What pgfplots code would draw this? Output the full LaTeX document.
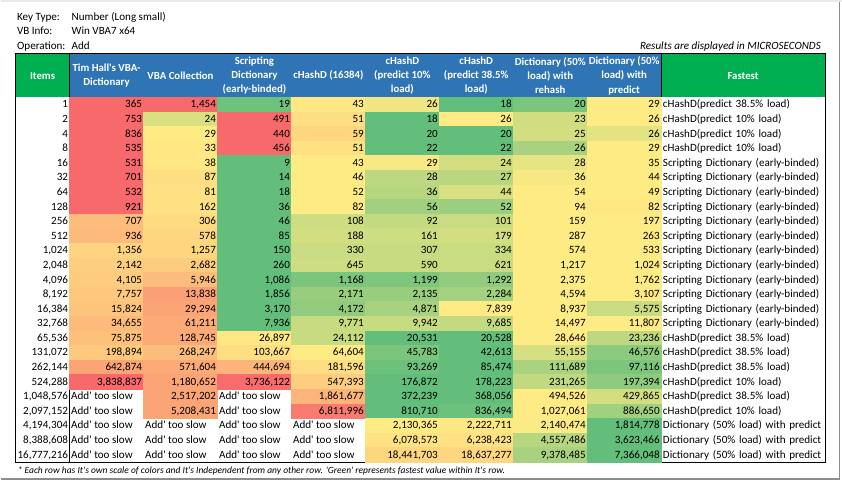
\documentclass[border=0pt]{standalone}
\usepackage{fontspec}
\setmainfont{Carlito}
\usepackage{pgfplots}
\usepackage{pgfplotstable}
\pgfplotsset{compat=1.18}
\definecolor{hblue}{HTML}{2F75B5}
\definecolor{hgreen}{HTML}{00B050}
\newcommand\cf{\fontsize{11.1}{14.6}\selectfont}
\newcommand\hf{\fontsize{10.8}{14.4}\selectfont}
\newcommand\sq{\textquotesingle}
\newcommand\fastname[1]{\ifcase#1\relax\or cHashD(predict 38.5\% load)\or cHashD(predict 10\% load)\or Scripting Dictionary (early-binded)\or Dictionary (50\% load) with predict\fi}
\pgfdeclareplotmark{cell}{\pgfpathrectangle{\pgfpoint{-37pt}{-7.3pt}}{\pgfpoint{74pt}{14.6pt}}\pgfusepathqfillstroke}
\tikzset{
  cellnum/.style={font=\cf, text=black, inner sep=0pt, text width=71pt, align=right, text height=8pt, text depth=1.4pt, anchor=center},
  hdr/.style={font=\hf\bfseries, text=white, align=center, inner sep=0pt},
  lbl/.style={font=\cf, anchor=base west, inner sep=0pt},
}
\newcommand\slow[2]{\node[anchor=base west,font=\cf,inner sep=0pt] at (axis cs:{#1+1.5},{97.4+14.6*#2+10.6}) {Add\sq{} too slow};}

\pgfplotstableread{
r items c1 c2 c3 c4 c5 c6 c7 c8 l1 l2 l3 l4 l5 l6 l7 l8 f
0 1 365 1454 19 43 26 18 20 29 1 1 0.04 0.51 0.45 0 0.08 0.5 1
1 2 753 24 491 51 18 26 23 26 1 0.38 1 0.55 0 0.5 0.35 0.5 2
2 4 836 29 440 59 20 20 25 26 1 0.5 1 0.58 0 0 0.36 0.41 2
3 8 535 33 456 51 22 22 26 29 1 0.51 1 0.54 0 0 0.22 0.5 2
4 16 531 38 9 43 29 24 28 35 1 0.51 0 0.5 0.48 0.36 0.42 0.5 3
5 32 701 87 14 46 28 27 36 44 1 0.55 0 0.5 0.29 0.28 0.47 0.5 3
6 64 532 81 18 52 36 44 54 49 1 0.54 0 0.5 0.27 0.38 0.5 0.5 3
7 128 921 162 36 82 56 52 94 82 1 0.54 0 0.5 0.2 0.18 0.5 0.51 3
8 256 707 306 46 108 92 101 159 197 0.68 0.56 0 0.34 0.31 0.33 0.5 0.5 3
9 512 936 578 85 188 161 179 287 263 0.69 0.58 0 0.36 0.34 0.36 0.5 0.5 3
10 1024 1356 1257 150 330 307 334 574 533 0.59 0.58 0 0.33 0.32 0.33 0.5 0.5 3
11 2048 2142 2682 260 645 590 621 1217 1024 0.61 0.62 0 0.34 0.32 0.33 0.5 0.5 3
12 4096 4105 5946 1086 1168 1199 1292 2375 1762 0.62 0.68 0 0.08 0.09 0.15 0.5 0.5 3
13 8192 7757 13838 1856 2171 2135 2284 4594 3107 0.64 0.79 0 0.17 0.17 0.21 0.5 0.5 3
14 16384 15824 29294 3170 4172 4871 7839 8937 5575 0.65 0.77 0 0.15 0.22 0.5 0.5 0.33 3
15 32768 34655 61211 7936 9771 9942 9685 14497 11807 0.69 0.75 0 0.32 0.32 0.31 0.5 0.5 3
16 65536 75875 128745 26897 24112 20531 20528 28646 23236 0.66 0.75 0.51 0.32 0 0 0.5 0.29 1
17 131072 198894 268247 103667 64604 45783 42613 55155 46576 0.63 0.68 0.55 0.5 0.08 0 0.37 0.13 1
18 262144 642874 571604 444694 181596 93269 85474 111689 97116 0.77 0.75 0.71 0.55 0.03 0 0.23 0.08 1
19 524288 3838837 1180652 3736122 547393 176872 178223 231265 197394 1 0.77 0.99 0.61 0 0 0.3 0.14 2
20 1048576 nan 2517202 nan 1861677 372239 368056 494526 429865 nan 0.77 nan 0.71 0 0 0.5 0.36 1
21 2097152 nan 5208431 nan 6811996 810710 836494 1027061 886650 nan 0.77 nan 0.93 0 0.03 0.5 0.2 2
22 4194304 nan nan nan nan 2130365 2222711 2140474 1814778 nan nan nan nan 0.5 0.51 0.49 0 4
23 8388608 nan nan nan nan 6078573 6238423 4557486 3623466 nan nan nan nan 0.53 0.54 0.27 0 4
24 16777216 nan nan nan nan 18441703 18637277 9378485 7366048 nan nan nan nan 0.58 0.58 0.22 0 4
}\data

\begin{document}
\begin{tikzpicture}
\fill[white] (0,0) rectangle (842pt,481pt);
\begin{axis}[width=842pt,height=481pt,scale only axis,
  xmin=0,xmax=842,ymin=0,ymax=481,y dir=reverse,hide axis,clip=false,
  colormap={xl}{rgb255(0)=(99,190,123) rgb255(1)=(255,235,132) rgb255(2)=(248,105,107)},
  /pgf/number format/assume math mode=true,
  unbounded coords=discard, filter discard warning=false,
]
% frame
\fill[black!9] (axis cs:0,0) rectangle (axis cs:842,2.5);
\draw[black!45, line width=1.2pt] (axis cs:839.5,2.5) -- (axis cs:839.5,479.4) -- (axis cs:0,479.4);
% top texts
\node[lbl] at (axis cs:16.3,20.1) {Key Type:};
\node[lbl] at (axis cs:71,20.1) {Number (Long small)};
\node[lbl] at (axis cs:16.3,34.7) {VB Info:};
\node[lbl] at (axis cs:71,34.7) {Win VBA7 x64};
\node[lbl] at (axis cs:16.3,49.3) {Operation:};
\node[lbl] at (axis cs:71,49.3) {Add};
\node[font=\cf\itshape, anchor=base east, inner sep=0pt] at (axis cs:821,49.3) {Results are displayed in MICROSECONDS};
% header
\fill[hgreen] (axis cs:15,53.3) rectangle (axis cs:69,97.4);
\fill[hblue] (axis cs:69,53.3) rectangle (axis cs:661,97.4);
\fill[hgreen] (axis cs:661,53.3) rectangle (axis cs:825,97.4);
\node[hdr] at (axis cs:42,75.6) {Items};
\node[hdr] at (axis cs:106,75.6) {Tim Hall\sq s VBA-\\Dictionary};
\node[hdr] at (axis cs:180,75.6) {VBA Collection};
\node[hdr] at (axis cs:254,75.6) {Scripting\\Dictionary\\(early-binded)};
\node[hdr] at (axis cs:328,75.6) {cHashD (16384)};
\node[hdr] at (axis cs:402,75.6) {cHashD\\(predict 10\%\\load)};
\node[hdr] at (axis cs:476,75.6) {cHashD\\(predict 38.5\%\\load)};
\node[hdr] at (axis cs:550,75.6) {Dictionary (50\%\\load) with\\rehash};
\node[hdr] at (axis cs:624,75.6) {Dictionary (50\%\\load) with\\predict};
\node[hdr] at (axis cs:743,75.6) {Fastest};
% data cells (colour) and values (text)
\pgfplotsinvokeforeach{1,...,8}{
\addplot[scatter, only marks, mark=cell, point meta=explicit,
  point meta min=0, point meta max=1,
  scatter/use mapped color={draw=mapped color, fill=mapped color, line width=0.4pt}]
 table[x expr={69+74*(#1-0.5)}, y expr={(\thisrow{c#1}-\thisrow{c#1})+97.4+14.6*(\thisrow{r}+0.5)}, meta=l#1] {\data};
\addplot[only marks, mark=none, point meta=explicit symbolic,
  nodes near coords={\pgfmathprintnumber[fixed,precision=0,1000 sep={,}]{\pgfplotspointmeta}},
  nodes near coords align={center},
  every node near coord/.style={cellnum}]
 table[x expr={69+74*(#1-0.5)}, y expr={(\thisrow{c#1}-\thisrow{c#1})+97.4+14.6*(\thisrow{r}+0.5)}, meta=c#1] {\data};
}
% items column
\addplot[only marks, mark=none, point meta=explicit symbolic,
  nodes near coords={\pgfmathprintnumber[fixed,precision=0,1000 sep={,}]{\pgfplotspointmeta}},
  nodes near coords align={center},
  every node near coord/.style={cellnum, text width=51pt}]
 table[x expr={42}, y expr={97.4+14.6*(\thisrow{r}+0.5)}, meta=items] {\data};
% fastest column
\addplot[only marks, mark=none, point meta=explicit symbolic,
  nodes near coords={\fastname{\pgfplotspointmeta}},
  nodes near coords align={center},
  every node near coord/.style={cellnum, text width=160pt, align=left}]
 table[x expr={742.8}, y expr={97.4+14.6*(\thisrow{r}+0.5)}, meta=f] {\data};
% too slow cells
\slow{69}{20}\slow{217}{20}
\slow{69}{21}\slow{217}{21}
\slow{69}{22}\slow{143}{22}\slow{217}{22}\slow{291}{22}
\slow{69}{23}\slow{143}{23}\slow{217}{23}\slow{291}{23}
\slow{69}{24}\slow{143}{24}\slow{217}{24}\slow{291}{24}
% borders
\draw[black, line width=1pt] (axis cs:15,53.3) rectangle (axis cs:825,462.4);
\draw[black, line width=1pt] (axis cs:69,53.3) -- (axis cs:69,462.4);
\draw[black, line width=1pt] (axis cs:661,53.3) -- (axis cs:661,462.4);
% footnote
\node[font=\fontsize{9.5}{10}\selectfont\itshape, anchor=base west, inner sep=0pt] at (axis cs:17,473.6) {* Each row has It\sq s own scale of colors and It\sq s Independent from any other row. \sq Green\sq{} represents fastest value within It\sq s row.};
\end{axis}
\end{tikzpicture}
\end{document}
